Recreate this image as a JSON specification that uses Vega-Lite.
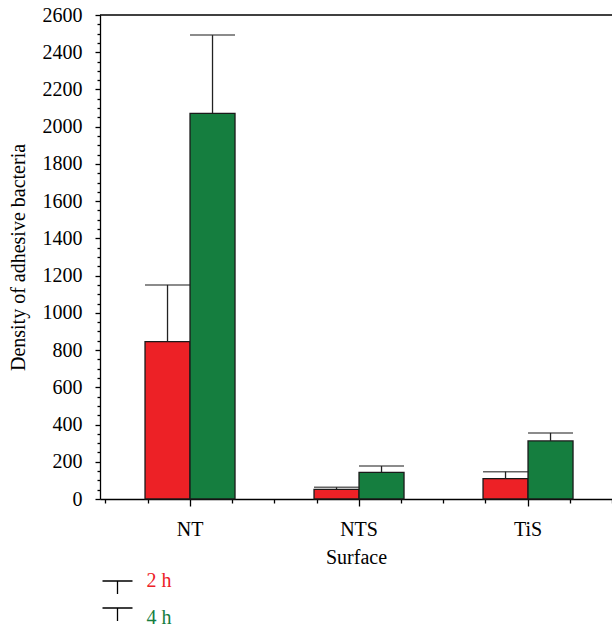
{
  "$schema": "https://vega.github.io/schema/vega-lite/v6.json",
  "width": 512,
  "height": 484,
  "autosize": {"type": "none"},
  "padding": {"left": 100, "top": 15, "right": 0, "bottom": 131},
  "config": {
    "view": {"stroke": null},
    "font": "Liberation Serif",
    "axis": {
      "grid": false,
      "domainColor": "black",
      "tickColor": "black",
      "labelColor": "black",
      "titleColor": "black",
      "labelFont": "Liberation Serif",
      "titleFont": "Liberation Serif",
      "labelFontSize": 20,
      "titleFontSize": 20,
      "titleFontWeight": "normal",
      "domainWidth": 1.3,
      "tickWidth": 1.3
    }
  },
  "datasets": {
    "bars": [
      {"surface": "NT", "time": "2 h", "value": 845, "err": 1150},
      {"surface": "NT", "time": "4 h", "value": 2072, "err": 2492},
      {"surface": "NTS", "time": "2 h", "value": 52, "err": 63},
      {"surface": "NTS", "time": "4 h", "value": 143, "err": 177},
      {"surface": "TiS", "time": "2 h", "value": 109, "err": 147},
      {"surface": "TiS", "time": "4 h", "value": 312, "err": 355}
    ]
  },
  "layer": [
    {
      "data": {"name": "bars"},
      "encoding": {
        "x": {
          "field": "surface",
          "type": "nominal",
          "sort": ["NT", "NTS", "TiS"],
          "scale": {"paddingInner": 0.4675, "paddingOuter": 0.2485, "align": 0.536},
          "axis": {"title": "Surface", "labelAngle": 0, "ticks": false, "labelPadding": 20, "titlePadding": 8}
        },
        "xOffset": {"field": "time", "type": "nominal", "sort": ["2 h", "4 h"], "scale": {"paddingInner": 0, "paddingOuter": 0}}
      },
      "layer": [
        {
          "mark": {"type": "bar", "stroke": "#1a1a1a", "strokeWidth": 1.3},
          "encoding": {
            "y": {
              "field": "value",
              "type": "quantitative",
              "scale": {"domain": [0, 2600], "nice": false},
              "axis": {
                "title": "Density of adhesive bacteria",
                "values": [0, 200, 400, 600, 800, 1000, 1200, 1400, 1600, 1800, 2000, 2200, 2400, 2600],
                "format": "d",
                "labelOverlap": false,
                "labelPadding": 13,
                "tickSize": 5,
                "titlePadding": 14
              }
            },
            "color": {
              "field": "time",
              "type": "nominal",
              "scale": {"domain": ["2 h", "4 h"], "range": ["#ed2126", "#157e3f"]},
              "legend": {
                "title": null,
                "orient": "none",
                "legendX": 6.5,
                "legendY": 555,
                "direction": "vertical",
                "padding": 0,
                "symbolType": "M-1.5,0L1.5,0M0,0L0,1.3",
                "symbolSize": 400,
                "symbolStrokeWidth": 1.3,
                "symbolStrokeColor": "black",
                "labelFont": "Liberation Serif",
                "labelFontSize": 20,
                "labelOffset": 18,
                "rowPadding": -2,
                "labelColor": {"expr": "datum.value === '2 h' ? '#ed2126' : '#157e3f'"},
                "labelBaseline": {"expr": "datum.value === '4 h' ? 'top' : 'middle'"}
              }
            }
          }
        },
        {
          "mark": {"type": "rule", "color": "#222222", "strokeWidth": 1.3},
          "encoding": {
            "y": {
              "field": "value",
              "type": "quantitative",
              "axis": {
                "title": "Density of adhesive bacteria",
                "values": [0, 200, 400, 600, 800, 1000, 1200, 1400, 1600, 1800, 2000, 2200, 2400, 2600],
                "format": "d",
                "labelOverlap": false,
                "labelPadding": 13,
                "tickSize": 5,
                "titlePadding": 14
              }
            },
            "y2": {"field": "err"}
          }
        },
        {
          "mark": {"type": "tick", "orient": "horizontal", "color": "#222222", "thickness": 1.5, "size": 45},
          "encoding": {
            "y": {
              "field": "err",
              "type": "quantitative",
              "axis": {
                "title": "Density of adhesive bacteria",
                "values": [0, 200, 400, 600, 800, 1000, 1200, 1400, 1600, 1800, 2000, 2200, 2400, 2600],
                "format": "d",
                "labelOverlap": false,
                "labelPadding": 13,
                "tickSize": 5,
                "titlePadding": 14
              }
            }
          }
        }
      ]
    },
    {
      "data": {"values": [{}]},
      "mark": {"type": "rule", "color": "black", "strokeWidth": 1.3},
      "encoding": {
        "x": {
          "datum": -0.5325,
          "type": "quantitative",
          "scale": {"domain": [-0.5325, 2.5], "nice": false, "zero": false},
          "axis": {
            "orient": "bottom",
            "title": null,
            "labels": false,
            "domain": false,
            "values": [-0.5, -0.25, 0, 0.25, 0.5, 0.75, 1, 1.25, 1.5, 1.75, 2, 2.25, 2.5],
            "tickSize": {"condition": {"test": "datum.value % 1 === 0", "value": 7}, "value": 4}
          }
        },
        "x2": {"datum": 2.5},
        "y": {
          "datum": 2600,
          "type": "quantitative",
          "scale": {"domain": [0, 2600], "nice": false},
          "axis": {
            "orient": "left",
            "title": null,
            "labels": false,
            "domain": false,
            "values": [50, 100, 150, 250, 300, 350, 450, 500, 550, 650, 700, 750, 850, 900, 950, 1050, 1100, 1150, 1250, 1300, 1350, 1450, 1500, 1550, 1650, 1700, 1750, 1850, 1900, 1950, 2050, 2100, 2150, 2250, 2300, 2350, 2450, 2500, 2550],
            "tickSize": 3
          }
        }
      }
    }
  ],
  "resolve": {"scale": {"x": "independent", "y": "independent"}, "axis": {"x": "independent", "y": "independent"}}
}
